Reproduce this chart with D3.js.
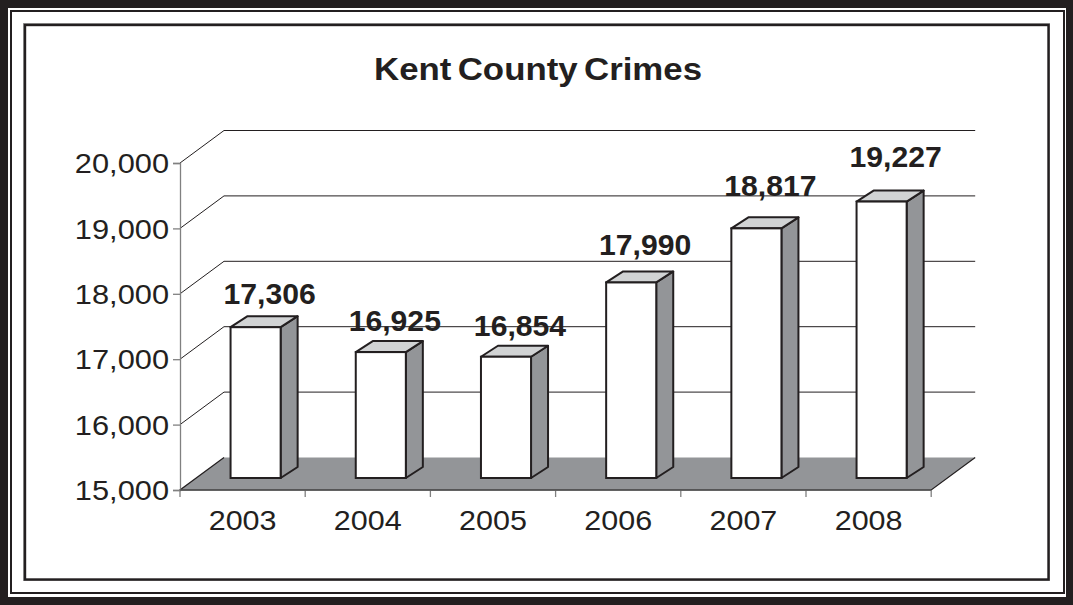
<!DOCTYPE html>
<html>
<head>
<meta charset="utf-8">
<script src="https://cdn.jsdelivr.net/npm/d3@7/dist/d3.min.js"></script>
<style>
  html, body { margin: 0; padding: 0; background: #fff; }
  svg { display: block; }
  text { font-family: "Liberation Sans", Arial, sans-serif; fill: #231f20; }
</style>
</head>
<body>
<svg id="chart" width="1073" height="605"></svg>
<script>
// Kent County crime totals by year
const years = ["2003", "2004", "2005", "2006", "2007", "2008"];
const crimes = [17306, 16925, 16854, 17990, 18817, 19227];
const yTicks = [15000, 16000, 17000, 18000, 19000, 20000];
const title = "Kent County Crimes";

const W = 1073, H = 605;
const svg = d3.select("#chart");
const ink = "#231f20";

// widen glyphs slightly (the chart's font renders a little broad)
function widen(sel, k) {
  sel.each(function () {
    const len = this.getComputedTextLength();
    d3.select(this).attr("textLength", len * k).attr("lengthAdjust", "spacingAndGlyphs");
  });
}

// ---- decorative frame ----
svg.append("rect").attr("x", 0).attr("y", 0).attr("width", W).attr("height", H).attr("fill", ink);
svg.append("rect").attr("x", 8).attr("y", 8).attr("width", 1058).attr("height", 589).attr("fill", "#fff");
svg.append("rect").attr("x", 11).attr("y", 11).attr("width", 1053).attr("height", 582)
  .attr("fill", "none").attr("stroke", ink).attr("stroke-width", 2);
svg.append("rect").attr("x", 23.5).attr("y", 23.5).attr("width", 1026).attr("height", 557)
  .attr("fill", "none").attr("stroke", "#9a9a9a").attr("stroke-width", 1);
svg.append("rect").attr("x", 25).attr("y", 25).attr("width", 1023.5).attr("height", 554.5)
  .attr("fill", "none").attr("stroke", ink).attr("stroke-width", 2.4);

// ---- title ----
svg.append("text")
  .attr("x", 538).attr("y", 80)
  .attr("text-anchor", "middle")
  .attr("font-size", 32).attr("font-weight", "bold")
  .attr("word-spacing", -3)
  .attr("textLength", 328).attr("lengthAdjust", "spacingAndGlyphs")
  .text(title);

// ---- scales ----
const x = d3.scaleBand().domain(years).range([180, 931.2]).paddingInner(0).paddingOuter(0);
const y = d3.scaleLinear().domain([15000, 20000]).range([490, 163]);
// value labels follow the slightly steeper projected rise of the bar tops
const yLabel = d3.scaleLinear().domain([15000, 20000]).range([468, 112]);

// depth of the plot box (front plane -> back wall)
const depth = { dx: 44, dy: -32.5 };
// bar front plane offset and bar thickness in depth
const barShift = { dx: 13, dy: -12 };
const barDepth = { dx: 17, dy: -11 };
const barWidth = x.bandwidth() / 2.5; // gap width 150%

const grid = svg.append("g");

// floor
const [fx0, fx1] = x.range();
const fy = y(15000);
grid.append("path")
  .attr("d", `M${fx0},${fy} L${fx1},${fy} L${fx1 + depth.dx},${fy + depth.dy} L${fx0 + depth.dx},${fy + depth.dy} Z`)
  .attr("fill", "#939598").attr("stroke", "none");
grid.append("path")
  .attr("d", `M${fx0 + depth.dx},${fy + depth.dy} L${fx0},${fy} L${fx1},${fy} L${fx1 + depth.dx},${fy + depth.dy}`)
  .attr("fill", "none").attr("stroke", ink).attr("stroke-width", 1.2);

// back-wall gridlines and side-wall diagonals
yTicks.filter(t => t > 15000).forEach(t => {
  const ty = y(t);
  grid.append("line")
    .attr("x1", fx0).attr("y1", ty).attr("x2", fx0 + depth.dx).attr("y2", ty + depth.dy)
    .attr("stroke", ink).attr("stroke-width", 1);
  grid.append("line")
    .attr("x1", fx0 + depth.dx).attr("y1", ty + depth.dy)
    .attr("x2", fx1 + depth.dx).attr("y2", ty + depth.dy)
    .attr("stroke", ink).attr("stroke-width", 1);
});

// y axis
const yAxis = d3.axisLeft(y).tickValues(yTicks).tickSize(7).tickPadding(4)
  .tickFormat(d3.format(","));
const yg = svg.append("g").attr("transform", `translate(${fx0},0)`).call(yAxis);
yg.select(".domain").attr("stroke", "#808080").attr("stroke-width", 1.3);
yg.selectAll(".tick line").attr("stroke", "#808080").attr("stroke-width", 1.3);
yg.selectAll(".tick text")
  .attr("font-size", 28.5).attr("font-family", "Liberation Sans, Arial, sans-serif")
  .attr("fill", ink).attr("dy", "0.34em")
  .call(widen, 1.08);

// x axis (category boundary ticks)
const xg = svg.append("g").attr("transform", `translate(0,${fy})`);
const bounds = years.map(c => x(c)).concat([fx1]);
xg.selectAll("line.b").data(bounds).join("line")
  .attr("x1", d => d).attr("x2", d => d).attr("y1", 0).attr("y2", 7)
  .attr("stroke", "#808080").attr("stroke-width", 1.3);
xg.append("line").attr("x1", fx0).attr("x2", fx1).attr("y1", 0).attr("y2", 0)
  .attr("stroke", "#555").attr("stroke-width", 1.3);
xg.selectAll("text").data(years).join("text")
  .attr("x", d => x(d) + x.bandwidth() / 2)
  .attr("y", 40)
  .attr("text-anchor", "middle")
  .attr("font-size", 28.5)
  .text(d => d)
  .call(widen, 1.07);

// ---- bars ----
const data = years.map((yr, i) => ({ yr, v: crimes[i] }));
const bars = svg.append("g").selectAll("g").data(data).join("g");

const geo = d => {
  const L = x(d.yr) + (x.bandwidth() - barWidth) / 2 + barShift.dx;
  const R = L + barWidth;
  const T = y(d.v) + barShift.dy;
  const B = y(15000) + barShift.dy;
  return { L, R, T, B };
};

bars.append("path") // side face
  .attr("d", d => {
    const g = geo(d);
    return `M${g.R},${g.T} L${g.R + barDepth.dx},${g.T + barDepth.dy} L${g.R + barDepth.dx},${g.B + barDepth.dy} L${g.R},${g.B} Z`;
  })
  .attr("fill", "#939598").attr("stroke", ink).attr("stroke-width", 2).attr("stroke-linejoin", "round");

bars.append("path") // top face
  .attr("d", d => {
    const g = geo(d);
    return `M${g.L},${g.T} L${g.R},${g.T} L${g.R + barDepth.dx},${g.T + barDepth.dy} L${g.L + barDepth.dx},${g.T + barDepth.dy} Z`;
  })
  .attr("fill", "#d1d3d4").attr("stroke", ink).attr("stroke-width", 2).attr("stroke-linejoin", "round");

bars.append("rect") // front face
  .attr("x", d => geo(d).L)
  .attr("y", d => geo(d).T)
  .attr("width", barWidth)
  .attr("height", d => geo(d).B - geo(d).T)
  .attr("fill", "#fff").attr("stroke", ink).attr("stroke-width", 2);

// value labels
bars.append("text")
  .attr("x", d => geo(d).L + barWidth / 2 + 14)
  .attr("y", d => yLabel(d.v))
  .attr("text-anchor", "middle")
  .attr("font-size", 29).attr("font-weight", "bold")
  .text(d => d3.format(",")(d.v))
  .call(widen, 1.04);
</script>
</body>
</html>
